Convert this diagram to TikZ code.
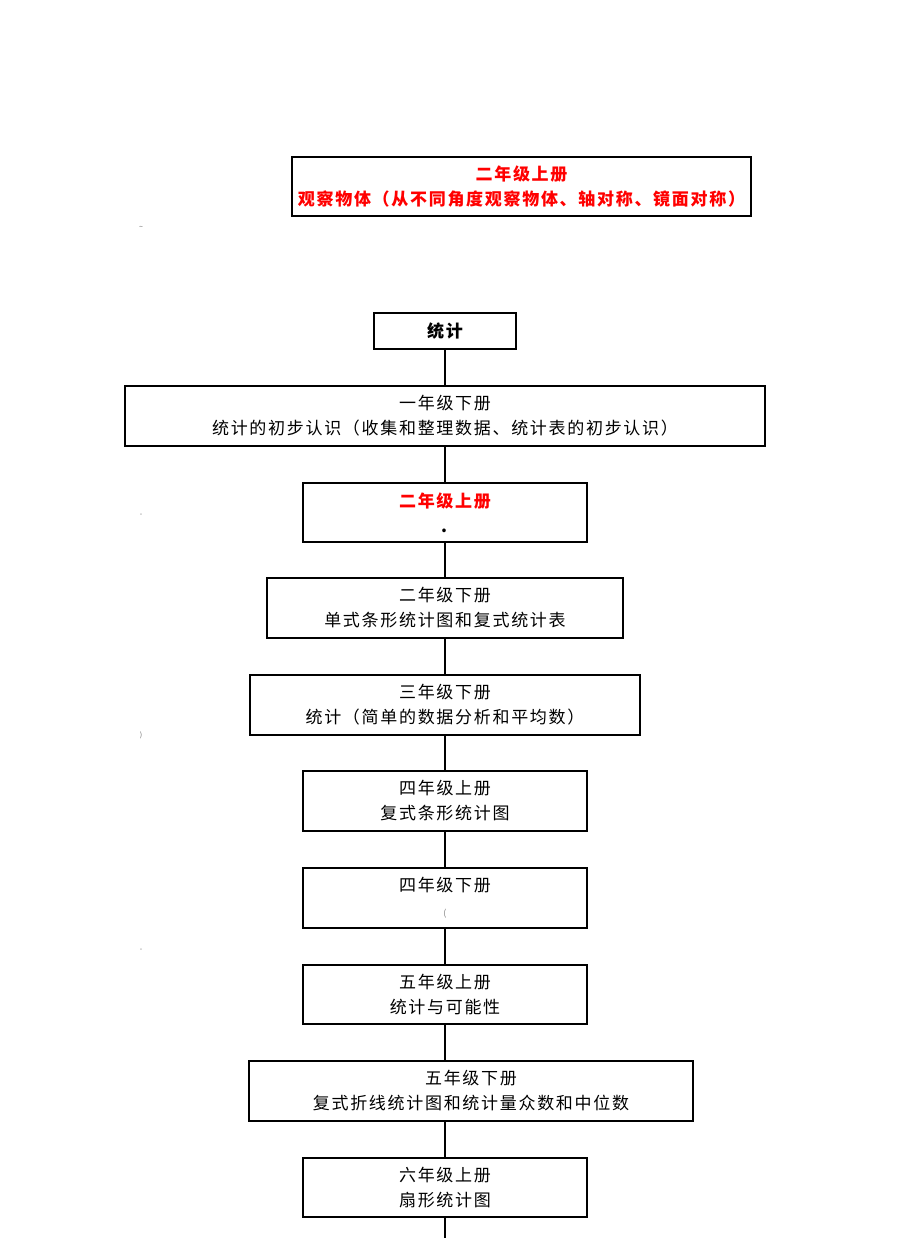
\documentclass[tikz,border=0pt]{standalone}
\usepackage{fontspec}
\setmainfont{Noto Sans CJK SC}[LetterSpace=10]
\usepackage{tikz}

\begin{document}
\begin{tikzpicture}[x=1pt,y=-1pt,
        box/.style={draw,line width=1.1pt,inner sep=0pt,align=center,
            font=\fontsize{17}{25}\selectfont},
        boldbox/.style={box,line width=1.9pt},
        redtext/.style={text=red,font=\fontsize{17}{25}\selectfont\bfseries},
        link/.style={line width=1.5pt},
        speck/.style={text=black!60,font=\scriptsize}]
                \useasboundingbox (0,0) rectangle (920,1249);
                \node[boldbox,redtext,minimum width=459,minimum height=59] at (521.5,186.5) (gcwt)
                    {二年级上册\\观察物体（从不同角度观察物体、轴对称、镜面对称）};
                \node[boldbox,minimum width=142,minimum height=36,font=\fontsize{17}{25}\selectfont\bfseries] at (445,331) (tj) {统计};
                \node[box,minimum width=640,minimum height=60] at (445,416) (yx)
                    {一年级下册\\统计的初步认识（收集和整理数据、统计表的初步认识）};
                \node[boldbox,minimum width=284,minimum height=59] at (445,512.5) (es)
                    {\textcolor{red}{\bfseries 二年级上册}\\\textbf{.}};
                \node[box,minimum width=356,minimum height=60] at (445,608) (ex)
                    {二年级下册\\单式条形统计图和复式统计表};
                \node[box,minimum width=390,minimum height=60] at (445,705) (sx)
                    {三年级下册\\统计（简单的数据分析和平均数）};
                \node[boldbox,minimum width=284,minimum height=60] at (445,801) (ss)
                    {四年级上册\\复式条形统计图};
                \node[boldbox,line width=1.4pt,minimum width=284,minimum height=60] at (445,898) (sxx)
                    {四年级下册\\{\small\color{gray}(}};
                \node[box,minimum width=284,minimum height=59] at (445,994.5) (ws)
                    {五年级上册\\统计与可能性};
                \node[box,minimum width=444,minimum height=60] at (471,1091) (wx)
                    {五年级下册\\复式折线统计图和统计量众数和中位数};
                \node[box,minimum width=284,minimum height=59] at (445,1187.5) (ls)
                    {六年级上册\\扇形统计图};
                \coordinate (end) at (445,1238);
                % connectors
                \draw[link] (tj) -- (yx);
                \draw[link] (yx) -- (es);
                \draw[link] (es) -- (ex);
                \draw[link] (ex) -- (sx);
                \draw[link] (sx) -- (ss);
                \draw[link] (ss) -- (sxx);
                \draw[link] (sxx) -- (ws);
                \draw[link] (ws.south) -- (ws.south |- wx.north);
                \draw[link] (ls.north |- wx.south) -- (ls.north);
                \draw[link] (ls) -- (end);
                % specks at the left
                \node[speck] at (141,228) (m1) {\textasciitilde};
                \node[speck] at (141,515) (m2) {-};
                \node[speck] at (141,735) (m3) {)};
                \node[speck] at (141,950) (m4) {-};
            \end{tikzpicture}
\end{document}
